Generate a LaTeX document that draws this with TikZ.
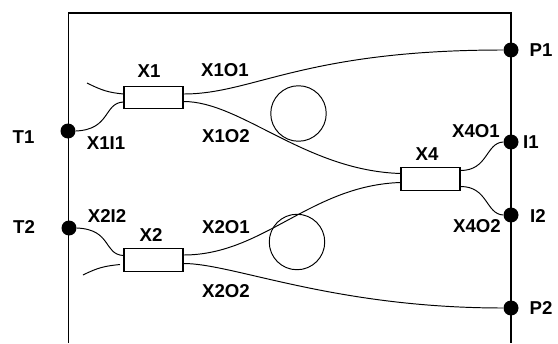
\documentclass[tikz,border=0pt]{standalone}
\usepackage{fontspec}
\setmainfont{Liberation Sans}
\tikzset{
	fibre/.style={line width=0.55pt},
	frame/.style={line width=0.65pt},
	port/.style={circle, fill=black, inner sep=0pt, minimum size=0.3cm},
	coupler/.style={draw, line width=0.65pt, fill=white, inner sep=0pt, minimum width=1.18cm, minimum height=0.45cm},
	spool/.style={circle, draw, line width=0.55pt, inner sep=0pt, minimum size=1.11cm},
	lbl/.style={font=\fontsize{10.6}{12}\selectfont\bfseries, inner sep=0pt}
}
\begin{document}
\begin{tikzpicture}
	\useasboundingbox (0,0) rectangle (11.16,6.86);
	\coordinate (FA) at (1.37,0);
	\coordinate (FB) at (1.37,6.6);
	\coordinate (FC) at (10.22,6.6);
	\coordinate (FD) at (10.22,0);
	\coordinate (X1f) at (1.74,5.2);
	\coordinate (X2f) at (1.66,1.36);
	\coordinate (X2g) at (2.40,1.57);
	\draw[frame] (FA) -- (FB) -- (FC) -- (FD);
	\node[port] (T1) at (1.36,4.24) {};
	\node[port] (T2) at (1.38,2.30) {};
	\node[port] (P1) at (10.22,5.86) {};
	\node[port] (I1) at (10.22,4.02) {};
	\node[port] (I2) at (10.22,2.56) {};
	\node[port] (P2) at (10.22,0.70) {};
	\node[coupler] (X1) at (3.07,4.91) {};
	\node[coupler] (X2) at (3.07,1.66) {};
	\node[coupler] (X4) at (8.61,3.28) {};
	\node[spool] (S1) at (5.97,4.59) {};
	\node[spool] (S2) at (5.94,2.02) {};
	% fibres
	\draw[fibre] (X1f) .. controls +(0.3,-0.15) and +(-0.3,0.03) .. ([yshift=0.07cm]X1.west);
	\draw[fibre] (T1.east) .. controls +(0.7,0.03) and +(-0.4,-0.02) .. ([yshift=-0.09cm]X1.west);
	\draw[fibre] ([yshift=0.07cm]X1.east) .. controls +(1.4,0) and +(-4,0) .. (P1.west);
	\draw[fibre] ([yshift=-0.08cm]X1.east) .. controls +(1.15,0) and +(-1.9,0.06) .. ([yshift=0.11cm]X4.west);
	\draw[fibre] (T2.east) .. controls +(0.7,-0.03) and +(-0.4,0.02) .. ([yshift=0.09cm]X2.west);
	\draw[fibre] (X2f) .. controls +(0.3,0.15) and +(-0.3,-0.03) .. (X2g);
	\draw[fibre] ([yshift=0.1cm]X2.east) .. controls +(1.6,0) and +(-1.8,-0.06) .. ([yshift=-0.07cm]X4.west);
	\draw[fibre] ([yshift=-0.07cm]X2.east) .. controls +(1.0,0) and +(-3.4,0) .. (P2.west);
	\draw[fibre] ([yshift=0.17cm]X4.east) .. controls +(0.55,0) and +(-0.35,-0.02) .. (I1.west);
	\draw[fibre] ([yshift=-0.15cm]X4.east) .. controls +(0.55,0) and +(-0.35,0.02) .. (I2.west);
	% labels
	\node[lbl] (LT1) at (0.47,4.12) {T1};
	\node[lbl] (LT2) at (0.48,2.32) {T2};
	\node[lbl] (LP1) at (10.82,5.86) {P1};
	\node[lbl] (LI1) at (10.62,4.02) {I1};
	\node[lbl] (LI2) at (10.76,2.54) {I2};
	\node[lbl] (LP2) at (10.82,0.70) {P2};
	\node[lbl] (LX1) at (2.98,5.44) {X1};
	\node[lbl] (LX2) at (3.02,2.16) {X2};
	\node[lbl] (LX4) at (8.54,3.78) {X4};
	\node[lbl] (X1I1) at (2.12,4.0) {X1I1};
	\node[lbl] (X2I2) at (2.14,2.54) {X2I2};
	\node[lbl] (X1O1) at (4.50,5.46) {X1O1};
	\node[lbl] (X1O2) at (4.52,4.14) {X1O2};
	\node[lbl] (X2O1) at (4.52,2.32) {X2O1};
	\node[lbl] (X2O2) at (4.52,1.04) {X2O2};
	\node[lbl] (X4O1) at (9.52,4.24) {X4O1};
	\node[lbl] (X4O2) at (9.54,2.34) {X4O2};
\end{tikzpicture}
\end{document}
